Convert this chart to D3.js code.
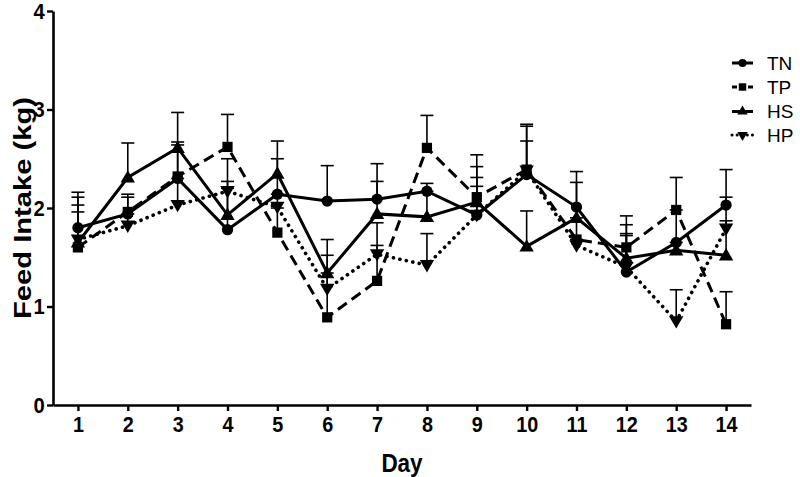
<!DOCTYPE html>
<html>
<head>
<meta charset="utf-8">
<script src="https://cdn.jsdelivr.net/npm/d3@7"></script>
<style>
  html, body { margin: 0; padding: 0; background: #fff; }
  svg { display: block; }
  text { font-family: "Liberation Sans", Arial, sans-serif; }
</style>
</head>
<body>
<svg id="chart" width="800" height="477"></svg>
<script>
const days = [1,2,3,4,5,6,7,8,9,10,11,12,13,14];
const yTicks = [0,1,2,3,4];
const seriesNames = ["TN","TP","HS","HP"];

const tnMean = [1.80,1.94,2.30,1.78,2.14,2.07,2.09,2.17,1.93,2.34,2.01,1.35,1.65,2.03];
const tnErr  = [0.36,0.20,0.34,0.49,0.36,0.36,0.36,0.08,0.38,0.51,0.36,0.37,0.33,0.36];

const tpMean = [1.60,1.96,2.32,2.62,1.75,0.89,1.26,2.61,2.11,2.39,1.68,1.60,1.98,0.82];
const tpErr  = [0.36,0.15,0.35,0.33,0.25,0.45,0.36,0.33,0.43,0.44,0.22,0.32,0.33,0.33];

const hsMean = [1.65,2.31,2.61,1.93,2.35,1.34,1.94,1.91,2.06,1.61,1.90,1.49,1.57,1.52];
const hsErr  = [0.46,0.35,0.36,0.57,0.33,0.34,0.33,0.26,0.36,0.36,0.36,0.34,0.08,0.35];

const hpMean = [1.68,1.82,2.03,2.17,2.01,1.18,1.53,1.42,1.93,2.38,1.62,1.40,0.85,1.79];
const hpErr  = [0.35,0.12,0.27,0.03,0.13,0.34,0.32,0.32,0.29,0.30,0.06,0.34,0.32,0.32];

const styles = {
  TN: { dash: null, cap: "butt", marker: "circle" },
  TP: { dash: "11,6", cap: "butt", marker: "square" },
  HS: { dash: null, cap: "butt", marker: "triangle" },
  HP: { dash: "0.1,6.5", cap: "round", marker: "triangleDown" }
};

const series = [
  { name: "TN", mean: tnMean, err: tnErr },
  { name: "TP", mean: tpMean, err: tpErr },
  { name: "HS", mean: hsMean, err: hsErr },
  { name: "HP", mean: hpMean, err: hpErr }
];

const svg = d3.select("#chart");
const x = d3.scaleLinear().domain([0.5, 14.5]).range([53, 751]);
const y = d3.scaleLinear().domain([0, 4]).range([405, 11]);

const symbolFor = (m, s) => {
  if (m === "circle") return d3.symbol().type(d3.symbolCircle).size(s * 0.95)();
  if (m === "square") return d3.symbol().type(d3.symbolSquare).size(s)();
  return d3.symbol().type(d3.symbolTriangle).size(s * 0.85)();
};

// error bars
const capW = 6.5;
series.forEach(sr => {
  const g = svg.append("g").attr("stroke", "#000").attr("stroke-width", 1.6).attr("fill", "none");
  days.forEach((d, i) => {
    const x0 = x(d), y0 = y(sr.mean[i]), y1 = y(sr.mean[i] + sr.err[i]);
    g.append("line").attr("x1", x0).attr("x2", x0).attr("y1", y0).attr("y2", y1);
    g.append("line").attr("x1", x0 - capW).attr("x2", x0 + capW).attr("y1", y1).attr("y2", y1);
  });
});

// lines
const line = d3.line().x((d, i) => x(days[i])).y(d => y(d));
series.forEach(sr => {
  const st = styles[sr.name];
  svg.append("path")
    .attr("d", line(sr.mean))
    .attr("fill", "none")
    .attr("stroke", "#000")
    .attr("stroke-width", sr.name === "HP" ? 3.6 : 3)
    .attr("stroke-linecap", st.cap)
    .attr("stroke-linejoin", "miter")
    .attr("stroke-dasharray", st.dash);
});

// markers
series.forEach(sr => {
  const st = styles[sr.name];
  svg.append("g").selectAll("path").data(sr.mean).join("path")
    .attr("d", symbolFor(st.marker, 105))
    .attr("transform", (d, i) => `translate(${x(days[i])},${y(d) + (st.marker === "triangle" ? 1 : st.marker === "triangleDown" ? -1 : 0)})` + (st.marker === "triangleDown" ? " rotate(180)" : ""))
    .attr("fill", "#000");
});

// axes
const yAxis = d3.axisLeft(y).tickValues(yTicks).tickFormat(d3.format("d")).tickSize(6).tickSizeOuter(0).tickPadding(3);
const yg = svg.append("g").attr("transform", "translate(53,0)").call(yAxis);
const xAxis = d3.axisBottom(x).tickValues(days).tickFormat(d3.format("d")).tickSize(6).tickSizeOuter(0).tickPadding(5);
const xg = svg.append("g").attr("transform", "translate(0,405)").call(xAxis);
[yg, xg].forEach(g => {
  g.select(".domain").attr("stroke", "#000").attr("stroke-width", 2.6);
  g.selectAll(".tick line").attr("stroke", "#000").attr("stroke-width", 2.4);
  g.selectAll(".tick text").attr("fill", "#000").attr("font-size", 22).attr("font-weight", "bold")
    .attr("font-family", "'Liberation Sans', Arial, sans-serif");
});
yg.selectAll(".tick text").attr("transform", "scale(0.92,1)");
xg.selectAll(".tick text").attr("transform", "scale(0.9,1)");

// axis titles
svg.append("text").attr("transform", "translate(402,472) scale(0.9,1)").attr("text-anchor", "middle")
  .attr("font-size", 25).attr("font-weight", "bold").text("Day");
svg.append("text").attr("transform", "translate(31,208) rotate(-90) scale(1,0.95)").attr("text-anchor", "middle")
  .attr("font-size", 26).attr("font-weight", "bold")
  .attr("textLength", 222).attr("lengthAdjust", "spacingAndGlyphs").text("Feed Intake (kg)");

// legend
const legY = [63, 87, 111.5, 135];
series.forEach((sr, i) => {
  const st = styles[sr.name];
  const g = svg.append("g").attr("transform", `translate(0,${legY[i]})`);
  g.append("line").attr("x1", 732).attr("x2", 753).attr("y1", 0).attr("y2", 0)
    .attr("stroke", "#000").attr("stroke-width", 3)
    .attr("stroke-linecap", st.cap)
    .attr("stroke-dasharray", sr.name === "TP" ? "5,3" : sr.name === "HP" ? "0.1,5" : null);
  g.append("path").attr("d", symbolFor(st.marker, 55))
    .attr("transform", `translate(742.5,0)` + (st.marker === "triangleDown" ? " rotate(180)" : ""))
    .attr("fill", "#000");
  g.append("text").attr("x", 767).attr("y", 0).attr("dy", "0.35em")
    .attr("font-size", 19).text(sr.name);
});
</script>
</body>
</html>
